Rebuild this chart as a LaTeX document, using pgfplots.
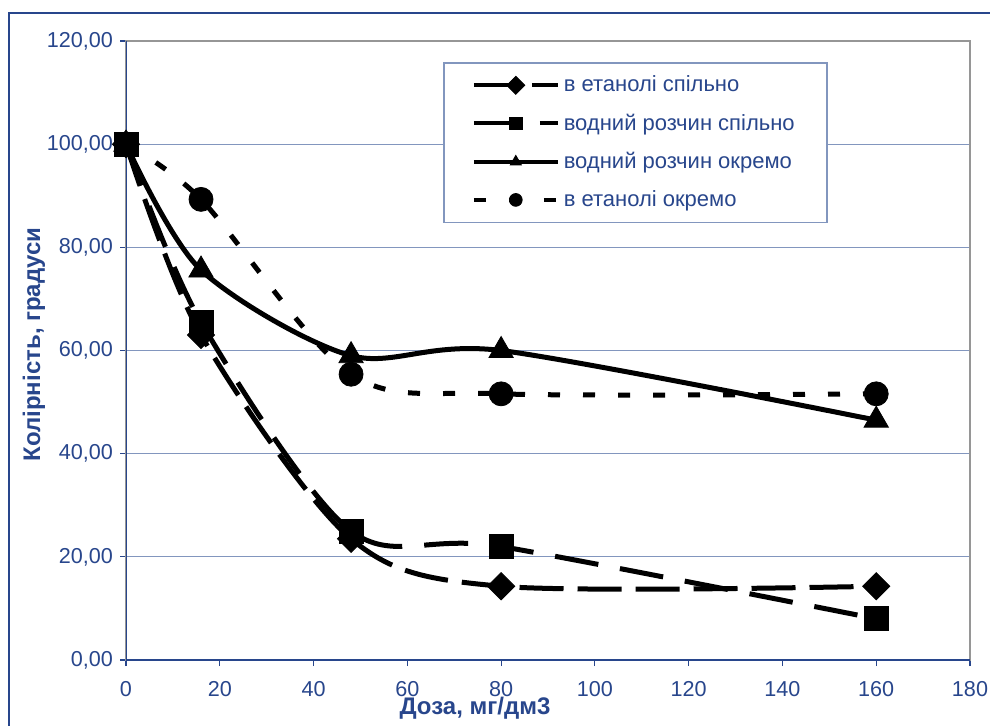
\documentclass[border=0pt]{standalone}
\usepackage{fontspec}
\setmainfont{Liberation Sans}
\usepackage{pgfplots}
\pgfplotsset{compat=1.18}
\definecolor{tb}{RGB}{40,70,140}
\definecolor{gridblue}{RGB}{130,150,190}
\definecolor{framegray}{RGB}{150,150,150}
\begin{document}
\begin{tikzpicture}
\useasboundingbox (0pt,0pt) rectangle (495pt,362.5pt);
\draw[tb, line width=1pt] (4.5pt,-20pt) -- (4.5pt,356pt) -- (520pt,356pt);
\begin{axis}[
  at={(63pt,32.5pt)}, anchor=south west,
  scale only axis, width=422pt, height=309.5pt,
  xmin=0, xmax=180, ymin=0, ymax=120,
  xtick={0,20,...,180}, ytick={0,20,...,120},
  axis line style={framegray, line width=1pt},
  ymajorgrids, grid style={gridblue, line width=0.6pt},
  tick align=outside, tick pos=left,
  tick style={tb, line width=0.6pt}, major tick length=3pt,
  ticklabel style={font=\fontsize{10.8}{12}\selectfont, text=tb},
  /pgf/number format/assume math mode=true,
  yticklabel style={/pgf/number format/.cd, fixed, fixed zerofill, precision=2, use comma},
  xticklabel style={yshift=-4pt},
  xlabel={Доза, мг/дм3}, ylabel={Колірність, градуси},
  label style={font=\bfseries\fontsize{12}{14}\selectfont, text=tb},
  xlabel style={at={(axis description cs:0.4135,-0.0775)}, anchor=center},
  ylabel style={at={(axis description cs:-0.109,0.51)}, anchor=center},
  legend style={at={(rel axis cs:0.3756,0.966)}, anchor=north west,
    draw=gridblue, line width=0.8pt, fill=white,
    font=\fontsize{11}{12}\selectfont, text=tb,
    inner xsep=14pt, inner ysep=4.5pt, row sep=5.5pt,
    /tikz/every even column/.append style={column sep=0pt}},
  legend cell align=left,
  legend image code/.code={\draw[#1, line width=2pt, mark size=3.2pt, mark repeat=2, mark phase=2] plot coordinates {(0pt,0pt) (21pt,0pt) (42pt,0pt)};},
]
\addplot[black, line width=2.5pt, smooth, tension=0.5, dash pattern=on 22pt off 7pt,
  mark=square*, mark size=4.8pt, mark options={solid, rotate=45, line width=0.4pt}]
  coordinates {(0,100) (16,63) (48,23.5) (80,14.3) (160,14.3)};
\addlegendentry{в етанолі спільно}
\addplot[black, line width=2.5pt, smooth, tension=0.5, dash pattern=on 22pt off 11pt,
  mark=square*, mark size=6pt, mark options={solid, line width=0.4pt}]
  coordinates {(0,100) (16,65.5) (48,25) (80,22) (160,8)};
\addlegendentry{водний розчин спільно}
\addplot[black, line width=2.5pt, smooth, tension=0.5,
  mark=triangle*, mark size=7pt, mark options={solid, line width=0.4pt}]
  coordinates {(0,100) (16,75.6) (48,59) (80,60) (160,46.5)};
\addlegendentry{водний розчин окремо}
\addplot[black, line width=2.5pt, smooth, tension=0.5, dash pattern=on 6pt off 11.5pt,
  mark=*, mark size=6pt, mark options={solid, line width=0.4pt}]
  coordinates {(0,100) (16,89.3) (48,55.4) (80,51.6) (160,51.6)};
\addlegendentry{в етанолі окремо}
\draw[tb, line width=1pt] (rel axis cs:0,1) -- (rel axis cs:0,0) -- (rel axis cs:1,0);
\end{axis}
\end{tikzpicture}
\end{document}
